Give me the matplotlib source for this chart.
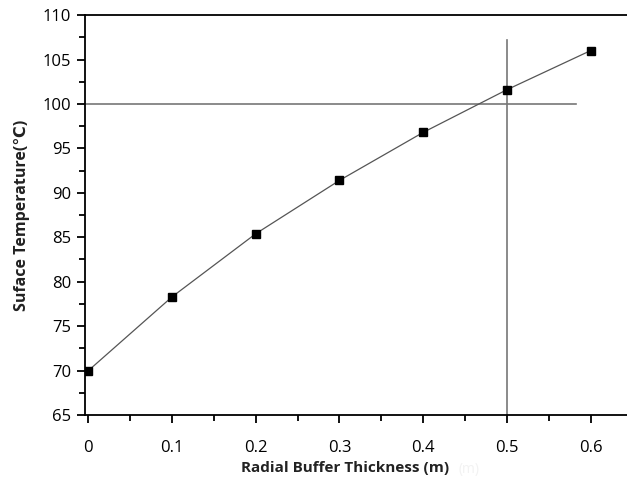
import matplotlib.pyplot as plt
from matplotlib.ticker import MultipleLocator

# data
thickness = [0.0, 0.1, 0.2, 0.3, 0.4, 0.5, 0.6]
temperature = [70.0, 78.3, 85.4, 91.4, 96.8, 101.6, 106.0]
tick_labels = ['0', '0.1', '0.2', '0.3', '0.4', '0.5', '0.6']
limit_temp = 100
chosen_thickness = 0.5

plt.rcParams['font.family'] = ['Open Sans', 'DejaVu Sans']

fig = plt.figure(figsize=(6.27, 4.86), dpi=100)
ax = fig.add_axes([0.1356, 0.146, 0.8744, 0.823])

ax.plot(thickness, temperature, color='#555555', lw=0.9, zorder=2)
ax.plot(thickness, temperature, 's', color='black', ms=6, zorder=3)

ax.plot([-0.004, 0.583], [limit_temp, limit_temp], color='#777777', lw=1.2, zorder=1)
ax.plot([chosen_thickness, chosen_thickness], [65, 107.2], color='#777777', lw=1.2, zorder=1)

ax.set_xlim(-0.004, 0.651)
ax.set_ylim(65, 110)
ax.xaxis.set_minor_locator(MultipleLocator(0.05))
ax.yaxis.set_major_locator(MultipleLocator(5))
ax.yaxis.set_minor_locator(MultipleLocator(2.5))
ax.set_xticks(thickness)
ax.set_xticklabels(tick_labels)

for s in ['left', 'bottom', 'top']:
    ax.spines[s].set_linewidth(1.3)
ax.spines['right'].set_visible(False)
ax.tick_params(which='major', direction='out', length=6, width=1.3, labelsize=12, pad=4)
ax.tick_params(which='minor', direction='out', length=4, width=1.3)
ax.tick_params(axis='x', pad=12)

ax.set_xlabel('Radial Buffer Thickness (m)', fontsize=11, fontweight='bold', color='#222222')
ax.xaxis.set_label_coords((345 - 85) / 548, -(461 - 415) / 400, transform=ax.transAxes)
ax.set_ylabel('Suface Temperature(\u2103)', fontsize=11.5, fontweight='bold', color='#222222')
ax.yaxis.set_label_coords(-(85 - 30) / 548, (415 - 215) / 400, transform=ax.transAxes)

# faint ghost text left in the original scan
fig.text(469 / 627, 1 - 469 / 486, '(m)', fontsize=10, color='#f2f2f2', ha='center', va='center')

fig.savefig('out.png', dpi=100)
